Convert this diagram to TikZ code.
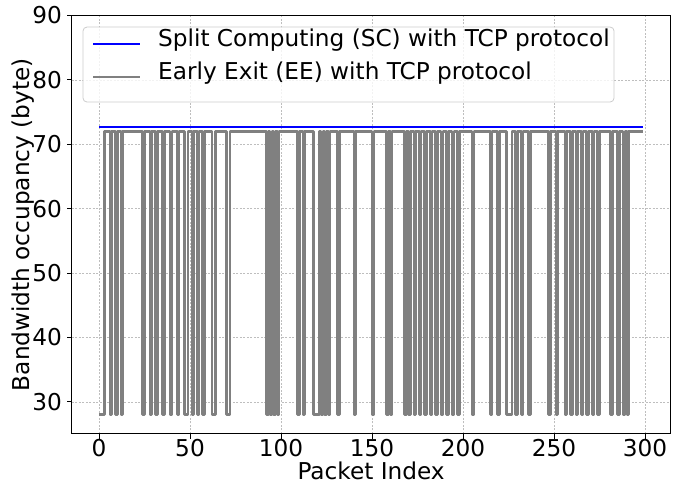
\documentclass[tikz,border=0pt]{standalone}
\usepackage{fontspec}
\setmainfont{DejaVu Sans}
\usepackage{xcolor}
\definecolor{scblue}{RGB}{0, 0, 255}
\definecolor{eegray}{RGB}{128, 128, 128}
\definecolor{gridgray}{RGB}{190, 190, 190}
\definecolor{legframe}{RGB}{204, 204, 204}
\usepackage{tikz}
\usetikzlibrary{positioning}

\begin{document}
\begin{tikzpicture}[
  x=1.82pt, y=6.438pt,
  every node/.style={font=\fontsize{23.2}{27}\selectfont, inner sep=0pt},
  gridline/.style={draw=gridgray, line width=0.5pt, dash pattern=on 2pt off 1.5pt},
  frame/.style={draw=black, line width=1pt},
  tick/.style={draw=black, line width=1pt},
  scline/.style={draw=scblue, line width=2.6pt, line join=round},
  eeline/.style={draw=eegray, line width=2.6pt, line join=round},
  legbox/.style={draw=legframe, fill=white, fill opacity=0.8, rounded corners=4pt, line width=0.8pt}
]
\useasboundingbox (-54.4,17.08) rectangle (319.23,92.41);

% grid
\foreach \x in {0,50,...,300} \draw[gridline] (\x,25) -- (\x,90);
\foreach \y in {30,40,...,90} \draw[gridline] (-14.95,\y) -- (313.95,\y);

% curves
\draw[scline] (0,72.7) -- (299,72.7);
\draw[eeline] (0,28) -- (3,28) -- (3,72)
  \foreach \a/\b in {6/6,9/9,12/12,24/24,28/28,31/31,35/35,39/39,43/43,47/48,
    51/51,54/54,57/57,62/63,70/71,92/92,94/94,96/96,98/98,
    109/109,112/112,118/120,122/122,124/124,126/126,131/131,140/140,150/150,
    158/158,160/160,168/168,170/170,173/173,176/176,179/179,182/182,185/185,
    188/188,191/191,194/194,197/197,205/205,215/215,219/219,224/226,229/229,
    232/232,236/236,247/247,251/251,256/256,259/259,262/262,265/265,268/268,
    271/271,274/274,281/281,285/285,288/288,290/290}
  { -- (\a,72) -- (\a,28) -- (\b+1,28) -- (\b+1,72) }
  -- (299,72);

% axes
\draw[frame] (-14.95,25) rectangle (313.95,90);
\foreach \x in {0,50,...,300} {
  \draw[tick] (\x,25) -- ++(0,-4.9pt);
  \node[anchor=north, yshift=-5pt] (xt\x) at (\x,25) {\x};
}
\foreach \y in {30,40,...,90} {
  \draw[tick] (-14.95,\y) -- ++(-4.9pt,0);
  \node[anchor=east, xshift=-9.8pt] (yt\y) at (-14.95,\y) {\y};
}
\node[anchor=base] (xlab) at (149.5,17.95) {Packet Index};
\node[rotate=90] (ylab) at (-41.6,57.5) {Bandwidth occupancy (byte)};

% legend
\draw[legbox] (-8.8,76.56) rectangle (283,88.21);
\coordinate (sca) at (-3.3,85.57);
\coordinate (scb) at (22.5,85.57);
\coordinate (eea) at (-3.3,80.45);
\coordinate (eeb) at (22.5,80.45);
\draw[scline] (sca) -- (scb);
\draw[eeline] (eea) -- (eeb);
\node[anchor=mid west] (sctext) at (32.4,85.57) {Split Computing (SC) with TCP protocol};
\node[anchor=mid west] (eetext) at (32.4,80.45) {Early Exit (EE) with TCP protocol};
\end{tikzpicture}
\end{document}
